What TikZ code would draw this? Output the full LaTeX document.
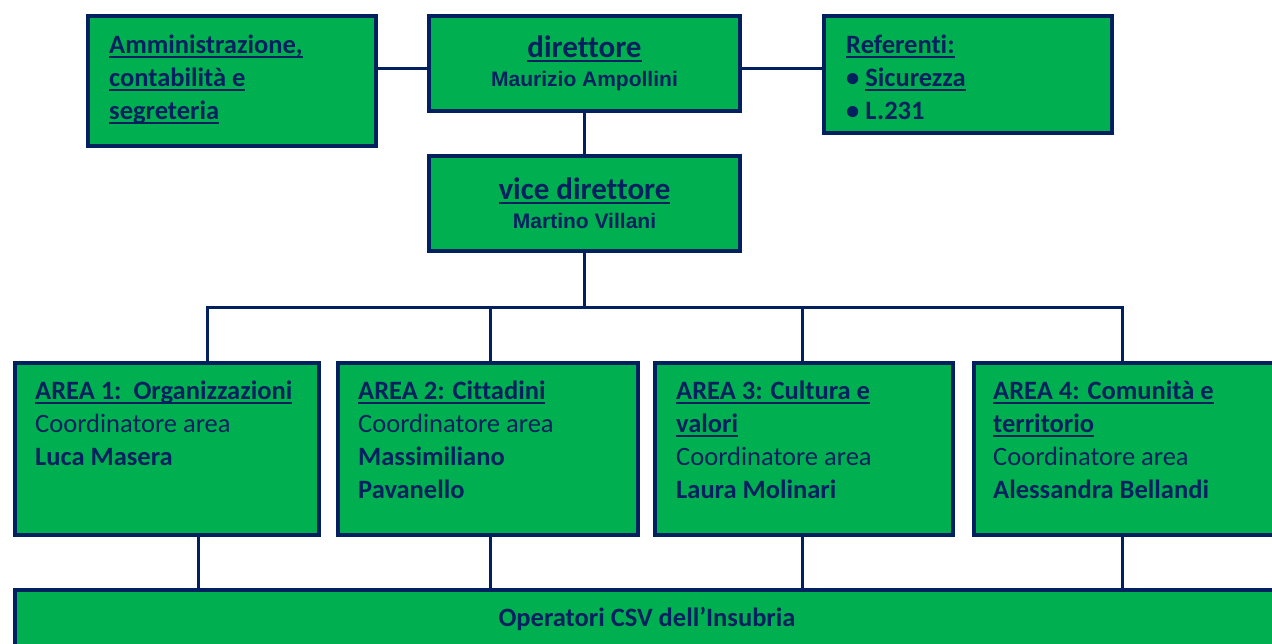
\documentclass[tikz,border=0pt]{standalone}
\usepackage{fontspec}
\setmainfont{Carlito}[Ligatures=NoCommon]
\newfontfamily\arialfont{Liberation Sans}
\definecolor{csvgreen}{RGB}{0,176,80}
\definecolor{csvblue}{RGB}{0,32,96}
\newcommand{\uline}[1]{\leavevmode\setbox0\hbox{#1}\rlap{\rule[-4pt]{\wd0}{2pt}}\box0}
\newcommand{\ttl}[1]{{\bfseries\uline{#1}}}
\newcommand{\nm}[1]{{\bfseries #1}}

\begin{document}
\begin{tikzpicture}[x=1pt,y=-1pt,
  box/.style={draw=csvblue,line width=4.5pt,fill=csvgreen,inner sep=0pt,text=csvblue},
  head/.style={box,minimum width=311pt,minimum height=95pt,align=center,font=\fontsize{21}{29}\selectfont},
  link/.style={draw=csvblue,line width=3pt},
  txt/.style={text=csvblue,inner sep=0pt,align=left,anchor=north west,font=\fontsize{26.5}{33}\selectfont}]
\useasboundingbox (0,0) rectangle (1272,643);
\clip (0,0) rectangle (1272,643);
% direzione
\node[box,minimum width=288pt,minimum height=130pt] (amm) at (232,81) {};
\node[txt] (ammt) at (109,35) {\ttl{Amministrazione,}\\ \ttl{contabilità e}\\ \ttl{segreteria}};
\node[head] (dir) at (584.5,63.5)
  {{\fontsize{31}{31}\selectfont\bfseries\uline{direttore}}\\
   {\arialfont\bfseries Maurizio Ampollini}};
\node[box,minimum width=288pt,minimum height=117pt] (ref) at (968,74.5) {};
\node[txt] (reft) at (846,35) {\ttl{Referenti:}\\ \nm{\textbullet\ \uline{Sicurezza}}\\ \nm{\textbullet\ L.231}};
\node[head] (vice) at (584.5,203.5)
  {{\fontsize{31}{31}\selectfont\bfseries\uline{vice direttore}}\\
   {\arialfont\bfseries Martino Villani}};
\draw[link] ([yshift=-4.5pt]dir.west) -- ([yshift=-4.5pt]dir.west -| amm.east);
\draw[link] ([yshift=-4.5pt]dir.east) -- ([yshift=-4.5pt]dir.east -| ref.west);
\draw[link] (dir.south) -- (vice.north);
% aree
\node[box,minimum width=304pt,minimum height=172pt] (a1) at (167,449) {};
\node[box,minimum width=300pt,minimum height=172pt] (a2) at (488,449) {};
\node[box,minimum width=298pt,minimum height=172pt] (a3) at (804,449) {};
\node[box,minimum width=301pt,minimum height=172pt] (a4) at (1124.5,449) {};
\node[txt] (a1t) at (35,381) {\ttl{AREA 1:\ \ Organizzazioni}\\ Coordinatore area\\ \nm{Luca Masera}};
\node[txt] (a2t) at (358,381) {\ttl{AREA 2: Cittadini}\\ Coordinatore area\\ \nm{Massimiliano}\\ \nm{Pavanello}};
\node[txt] (a3t) at (676,381) {\ttl{AREA 3: Cultura e}\\ \ttl{valori}\\ Coordinatore area\\ \nm{Laura Molinari}};
\node[txt] (a4t) at (993,381) {\ttl{AREA 4: Comunità e}\\ \ttl{territorio}\\ Coordinatore area\\ \nm{Alessandra Bellandi}};
\coordinate (bus) at (584.5,307);
\draw[link] (vice.south) -- (bus);
\foreach \n/\x in {a1/207,a2/490,a3/802,a4/1122}
  \draw[link] (\n.north -| \x,0) -- (\x,307) -- (bus);
% operatori
\node[box,minimum width=1264pt,minimum height=58pt] (ops) at (647,619)
  {\bfseries\fontsize{26.5}{26.5}\selectfont Operatori CSV dell’Insubria};
\foreach \n/\x in {a1/198,a2/490,a3/802,a4/1122}
  \draw[link] (\n.south -| \x,0) -- (ops.north -| \x,0);
\end{tikzpicture}
\end{document}
